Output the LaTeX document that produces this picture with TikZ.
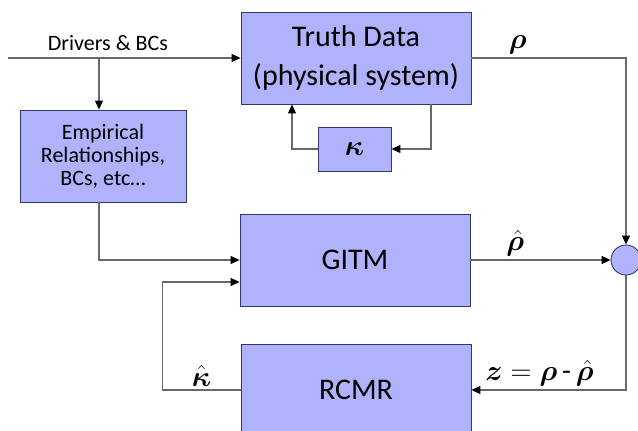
\RequirePackage{fix-cm}
\documentclass[tikz,border=0pt]{standalone}
\usepackage{fontspec}
\setmainfont{Carlito}
\usepackage{amsmath,bm}
\usetikzlibrary{arrows.meta,positioning}
\definecolor{boxfill}{RGB}{176,179,252}
\definecolor{boxedge}{RGB}{46,58,110}
\definecolor{wire}{RGB}{105,105,105}

\begin{document}
\begin{tikzpicture}[x=1pt,y=-1pt,
    block/.style={draw=boxedge,line width=0.9pt,fill=boxfill,inner sep=0pt,align=center},
    big/.style={minimum width=230,minimum height=92,font=\fontsize{30}{39}\selectfont},
    sig/.style={draw=wire,line width=1.1pt,-{Triangle[length=9pt,width=8pt,color=black]}},
    lbl/.style={font=\fontsize{29}{32}\selectfont}]
    \useasboundingbox (0,0) rectangle (638,431);
    \clip (0,0) rectangle (638,431);

    % Blocks
    \node[block,big] (truth) at (356,58) {Truth Data\\(physical system)};
    \node[block,minimum width=166,minimum height=92,font=\fontsize{22}{23}\selectfont] (emp) at (103,156) {Empirical\\Relationships,\\BCs, etc…};
    \node[block,minimum width=73,minimum height=44,lbl] (kap) at (354.5,149) {$\bm{\kappa}$};
    \node[block,big] (gitm) at (355,260) {GITM};
    \node[block,big] (rcmr) at (356,390) {RCMR};
    \node[block,circle,minimum size=30] (sum) at (626,260) {};

    % Inputs
    \coordinate (src) at (8,58);
    \coordinate (tap) at (99,58);
    \draw[sig] (src) -- node[above=3pt,pos=0.43,font=\fontsize{22}{26}\selectfont] {Drivers \& BCs} (truth.west);
    \draw[sig] (tap) -- (tap |- emp.north);
    \draw[sig] (tap |- emp.south) |- (gitm.west);

    % Inner loop of the physical system
    \draw[sig] ([xshift=75pt]truth.south) |- (kap.east);
    \draw[sig] (kap.west) -| ([xshift=-64pt]truth.south);

    % Outputs to the summing junction
    \draw[sig] (truth.east) -| node[above,pos=0.15,lbl] {$\bm{\rho}$} (sum.north);
    \draw[sig] (gitm.east) -- node[above,pos=0.32,lbl] {$\bm{\hat{\rho}}$} (sum.west);

    % Feedback through RCMR
    \draw[sig] (sum.south) |- node[above,pos=0.78,lbl] {$\bm{z} = \bm{\rho}$\,-\,$\bm{\hat{\rho}}$} (rcmr.east);
    \draw[sig] (rcmr.west) -- node[above,lbl] {$\bm{\hat{\kappa}}$} ++(-78,0) |- ([yshift=-22pt]gitm.west);
\end{tikzpicture}
\end{document}
